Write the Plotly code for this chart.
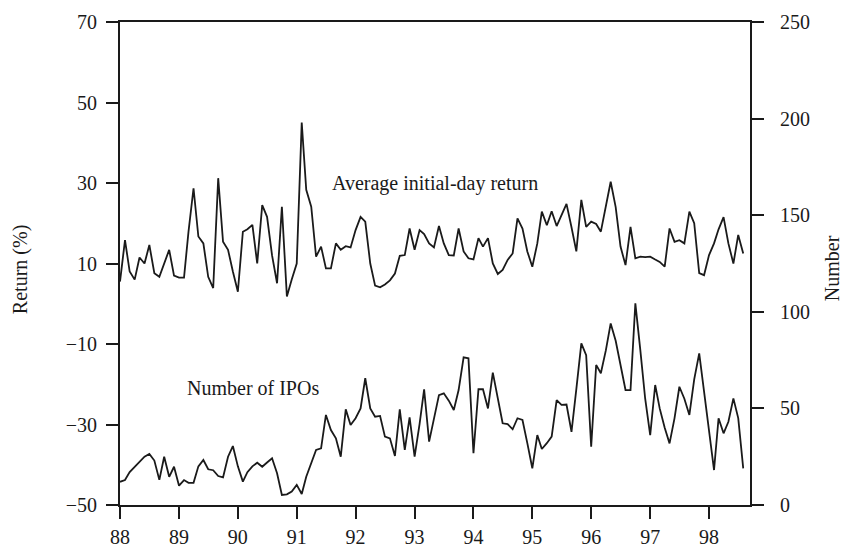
import pandas as pd
import plotly.graph_objects as go

# Monthly observations, Jan 1988 onward
months = pd.date_range("1988-01-01", periods=128, freq="MS")

initial_day_return = [
    5.5, 15.8, 8, 6, 11.5, 10, 14.6, 7.6, 6.7, 10, 13.4, 7,
    6.5, 6.5, 18, 28.7, 16.7, 15, 6.7, 3.9, 31.2, 15.4, 13.4, 8,
    3, 17.9, 18.5, 19.6, 10, 24.5, 21.6, 12, 5.1, 24.1, 1.8, 6,
    10, 45, 28.3, 24.1, 11.7, 14.2, 8.8, 8.8, 15, 13.4, 14.3, 14,
    18.3, 21.6, 20.4, 10, 4.5, 4.1, 4.8, 5.8, 7.5, 11.9, 12.1, 18.7,
    13.4, 18.3, 17.3, 15, 14, 19.3, 15, 12.1, 12, 18.7, 13, 11.3,
    11, 16.3, 14.2, 16.3, 10, 7.4, 8.4, 10.9, 12.5, 21.2, 18.7, 13,
    9.2, 15, 22.9, 19.5, 23, 19.3, 22, 24.8, 19, 13, 25.8, 19.1,
    20.4, 19.8, 17.9, 24, 30.3, 24, 14.2, 9.6, 19.1, 11.3, 11.7, 11.6,
    11.7, 11, 10.4, 9.2, 18.7, 15.4, 15.8, 15, 22.9, 20, 7.6, 7.1,
    12.1, 15, 18.5, 21.5, 15, 10, 17.1, 12.5,
]

number_of_ipos = [
    12, 12.9, 17, 19.8, 22, 25, 26.4, 23, 13, 25, 14.6, 19.8,
    10, 12.9, 11.5, 11.5, 20, 23.3, 18.5, 18, 15, 14.3, 25, 30.5,
    20, 12.1, 17, 20, 21.9, 19.8, 22, 24.2, 16.4, 5.2, 5.5, 7,
    10.4, 5.7, 14.6, 22, 28.5, 29.3, 46.6, 38.8, 34.5, 25, 49.5, 41.4,
    44.9, 50, 65.6, 50, 45.7, 46.1, 35.4, 34.5, 25.4, 49.5, 28.5, 45.4,
    25, 42, 59.9, 32.8, 45, 56.9, 57.8, 54, 49.2, 59.5, 76.4, 75.9,
    26.8, 59.9, 59.9, 50, 68.5, 55, 42.3, 41.9, 39.2, 44.9, 44, 32,
    19, 36.2, 29, 32, 35.4, 54.3, 51.8, 52, 37.9, 60, 83.7, 77.6,
    30.2, 72.5, 68.2, 80, 94, 85, 72, 59.5, 59.5, 104.4, 80, 55,
    36.2, 62.1, 50, 40, 31.9, 45, 61.2, 55, 46.6, 65, 78.5, 58,
    38, 18.1, 44.9, 37.1, 43.1, 55.2, 45, 19,
]

left_ticks = [-50, -30, -10, 10, 30, 50, 70]
right_ticks = [0, 50, 100, 150, 200, 250]
year_ticks = [f"{y}-01-01" for y in range(1988, 1999)]
year_labels = ["88", "89", "90", "91", "92", "93", "94", "95", "96", "97", "98"]

FONT = "Liberation Serif"
INK = "#1a1a1a"

fig = go.Figure()
fig.add_trace(go.Scatter(x=months, y=initial_day_return, mode="lines",
                         line=dict(color=INK, width=1.8), yaxis="y",
                         name="Average initial-day return", showlegend=False))
fig.add_trace(go.Scatter(x=months, y=number_of_ipos, mode="lines",
                         line=dict(color=INK, width=1.8), yaxis="y2",
                         name="Number of IPOs", showlegend=False))

axis_common = dict(showgrid=False, zeroline=False, showline=True, linecolor=INK,
                   linewidth=1.8, ticks="outside", ticklen=12, tickwidth=1.6,
                   tickcolor=INK, automargin=False,
                   tickfont=dict(family=FONT, size=20, color=INK))

fig.update_layout(
    width=843, height=549,
    margin=dict(l=120, r=93, t=22, b=44),
    paper_bgcolor="white", plot_bgcolor="white",
    font=dict(family=FONT, size=20, color=INK),
    xaxis=dict(range=["1988-01-01", "1998-09-12"], tickvals=year_ticks,
               ticktext=year_labels, mirror=True, ticklabelstandoff=1,
               **axis_common),
    yaxis=dict(range=[-50, 70], tickvals=left_ticks, ticklabelstandoff=5,
               **axis_common),
    yaxis2=dict(range=[0, 250], tickvals=right_ticks, overlaying="y",
                side="right", ticklabelstandoff=12, **axis_common),
    annotations=[
        dict(text="Average initial-day return", x="1991-07-26", y=29.8,
             xref="x", yref="y", xanchor="left", yanchor="middle",
             showarrow=False, font=dict(family=FONT, size=20, color=INK)),
        dict(text="Number of IPOs", x="1989-02-06", y=-21.0,
             xref="x", yref="y", xanchor="left", yanchor="middle",
             showarrow=False, font=dict(family=FONT, size=20, color=INK)),
        dict(text="Return (%)", x=-0.159, y=0.488, xref="paper", yref="paper",
             textangle=-90, xanchor="center", yanchor="middle",
             showarrow=False, font=dict(family=FONT, size=20, color=INK)),
        dict(text="Number", x=1.13, y=0.49, xref="paper", yref="paper",
             textangle=-90, xanchor="center", yanchor="middle",
             showarrow=False, font=dict(family=FONT, size=20, color=INK)),
    ],
)

fig.write_html("out.html")
